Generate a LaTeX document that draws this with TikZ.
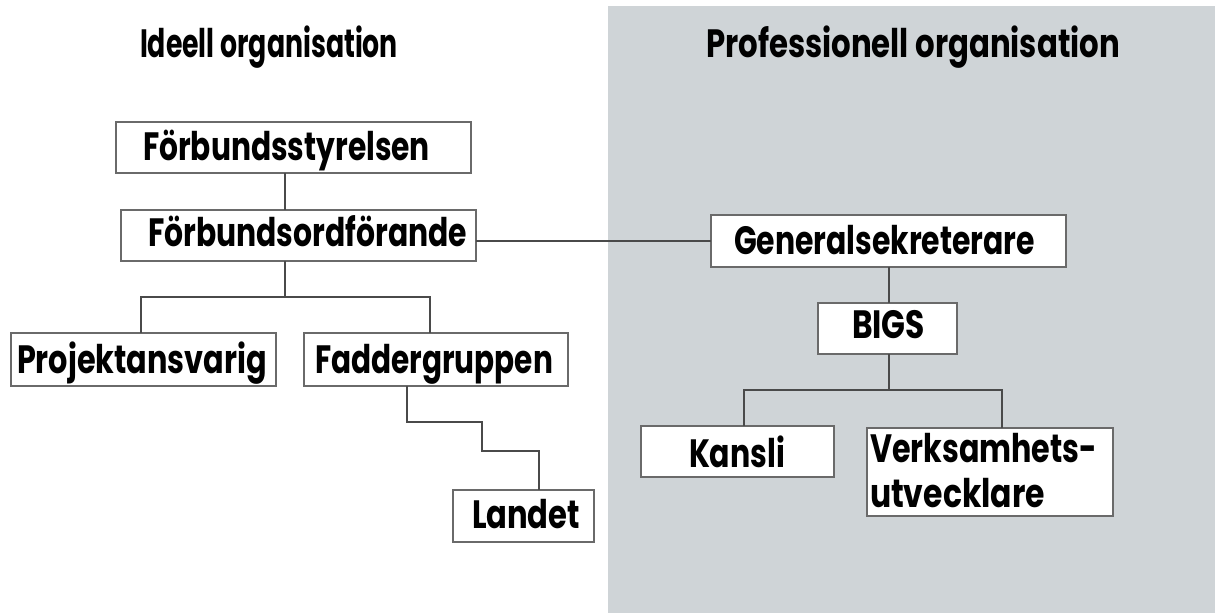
\documentclass[tikz,border=0pt]{standalone}
\usepackage{fontspec}
\usepackage{graphicx}
\setmainfont{Poppins}
\definecolor{panel}{HTML}{CFD4D7}
\definecolor{edge}{HTML}{6A6A6A}
\definecolor{wire}{HTML}{4A4A4A}
\newcommand{\fitw}[2]{\resizebox{#1pt}{\height}{#2}}
\begin{document}
\begin{tikzpicture}[x=1pt,y=-1pt,
  boxst/.style={draw=edge, fill=white, line width=1.4pt, rectangle, inner sep=0pt, outer sep=0pt},
  txt/.style={inner sep=0pt, outer sep=0pt, anchor=base west, font=\fontsize{39.5}{44}\selectfont\bfseries},
  wirest/.style={draw=wire, line width=1.3pt}]
\useasboundingbox (0,0) rectangle (1215,613);
\fill[panel] (608,6) rectangle (1215,613);

% titles
\node[txt] (t1) at (140,57) {\fitw{258}{Ideell organisation}};
\node[txt] (t2) at (706,57) {\fitw{414}{Professionell organisation}};

% boxes
\node[boxst, minimum width=355pt, minimum height=51pt] (fs) at (293.5,147.5) {};
\node[boxst, minimum width=355pt, minimum height=51pt] (fo) at (298.5,235.5) {};
\node[boxst, minimum width=265pt, minimum height=53pt] (pa) at (143.5,359.5) {};
\node[boxst, minimum width=264pt, minimum height=53pt] (fg) at (436,359.5) {};
\node[boxst, minimum width=141pt, minimum height=52pt] (la) at (523.5,516) {};
\node[boxst, minimum width=355pt, minimum height=52pt] (gs) at (888.5,241) {};
\node[boxst, minimum width=139pt, minimum height=51pt] (bi) at (887.5,328.5) {};
\node[boxst, minimum width=193pt, minimum height=51pt] (ka) at (737.5,451.5) {};
\node[boxst, minimum width=246pt, minimum height=88pt] (ve) at (990,472) {};

% labels
\node[txt] (fst) at (143,160) {\fitw{287}{Förbundsstyrelsen}};
\node[txt] (fot) at (148,246) {\fitw{319}{Förbundsordförande}};
\node[txt] (pat) at (17,373) {\fitw{250}{Projektansvarig}};
\node[txt] (fgt) at (315,373) {\fitw{238}{Faddergruppen}};
\node[txt] (lat) at (472,528) {\fitw{108}{Landet}};
\node[txt] (gst) at (734,254) {\fitw{301}{Generalsekreterare}};
\node[txt] (bit) at (852,338) {\fitw{73}{BIGS}};
\node[txt] (kat) at (689,467) {\fitw{96}{Kansli}};
\node[txt] (vet1) at (870,462) {\fitw{227}{Verksamhets-}};
\node[txt] (vet2) at (870,507) {\fitw{175}{utvecklare}};

% helper coordinates
\coordinate (c1) at (285,0);
\coordinate (j1) at (285,297);
\coordinate (pax) at (141,297);
\coordinate (fgx) at (430,297);
\coordinate (s1) at (407,422);
\coordinate (s2) at (482,451);
\coordinate (s3) at (539,451);
\coordinate (h) at (0,241);
\coordinate (j2) at (889,390);
\coordinate (k1) at (744,390);
\coordinate (k2) at (1002,390);

% connectors
\draw[wirest] (fs.south -| c1) -- (fo.north -| c1);
\draw[wirest] (fo.south -| c1) -- (j1);
\draw[wirest] (pa.north -| pax) |- (j1) -| (fg.north -| fgx);
\draw[wirest] (fg.south -| s1) -- (s1) -| (s2) -- (s3) -- (la.north -| s3);
\draw[wirest] (fo.east |- h) -- (gs.west);
\draw[wirest] (gs.south -| j2) -- (bi.north -| j2);
\draw[wirest] (bi.south -| j2) -- (j2);
\draw[wirest] (ka.north -| k1) |- (j2) -| (ve.north -| k2);
\end{tikzpicture}
\end{document}
